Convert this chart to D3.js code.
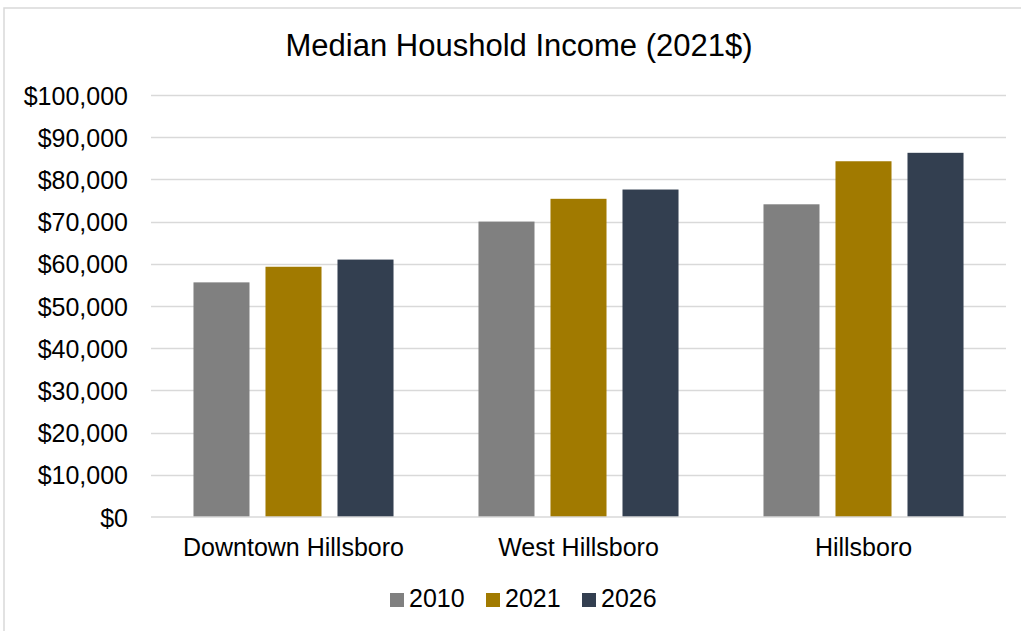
<!DOCTYPE html>
<html>
<head>
<meta charset="utf-8">
<script src="https://cdn.jsdelivr.net/npm/d3@7/dist/d3.min.js"></script>
<style>
  html, body { margin: 0; padding: 0; background: #fff; }
  svg { display: block; font-family: "Liberation Sans", Arial, sans-serif; }
</style>
</head>
<body>
<svg id="chart" width="1021" height="631"></svg>
<script>
// Chart data
const categories = ["Downtown Hillsboro", "West Hillsboro", "Hillsboro"];
const seriesNames = ["2010", "2021", "2026"];
const values2010 = [55600, 70000, 74100];
const values2021 = [59300, 75400, 84300];
const values2026 = [61000, 77600, 86300];
const yTicks = [0, 10000, 20000, 30000, 40000, 50000, 60000, 70000, 80000, 90000, 100000];
const seriesColors = ["#808080", "#a17a00", "#333f50"];
const titleText = "Median Houshold Income (2021$)";

const seriesValues = [values2010, values2021, values2026];
const rows = categories.map((c, i) => ({
  category: c,
  values: seriesNames.map((s, j) => ({ series: s, value: seriesValues[j][i] }))
}));

const svg = d3.select("#chart");
const W = 1021, H = 631;
const plot = { left: 151, right: 1006, top: 95, bottom: 517 };

// Outer frame
svg.append("rect")
  .attr("x", 4).attr("y", 8)
  .attr("width", W + 20).attr("height", H + 20)
  .attr("fill", "#fff")
  .attr("stroke", "#d9d9d9").attr("stroke-width", 1.5);

// Title
svg.append("text")
  .attr("x", 519).attr("y", 56)
  .attr("text-anchor", "middle")
  .attr("font-size", 31)
  .attr("fill", "#000")
  .text(titleText);

const y = d3.scaleLinear().domain([0, 100000]).range([plot.bottom, plot.top]);
const x0 = d3.scaleBand().domain(categories).range([plot.left, plot.right]).padding(0);
const x1 = d3.scaleBand().domain(seriesNames).range([0, x0.bandwidth()])
  .paddingInner(0.222).paddingOuter(0.59);
const color = d3.scaleOrdinal().domain(seriesNames).range(seriesColors);

// Gridlines
svg.append("g")
  .selectAll("line")
  .data(yTicks.filter(d => d > 0))
  .join("line")
  .attr("x1", plot.left).attr("x2", plot.right)
  .attr("y1", d => Math.round(y(d)) + 0.5).attr("y2", d => Math.round(y(d)) + 0.5)
  .attr("stroke", "#d9d9d9").attr("stroke-width", 1.3);

// Y axis labels
const fmt = d => "$" + d3.format(",")(d);
const yAxis = d3.axisLeft(y).tickValues(yTicks).tickFormat(fmt).tickSize(0).tickPadding(0);
const gy = svg.append("g").attr("transform", `translate(128,0)`).call(yAxis);
gy.select(".domain").remove();
gy.selectAll("text")
  .attr("font-size", 25)
  .attr("font-family", "Liberation Sans, Arial, sans-serif")
  .attr("fill", "#000")
  .attr("dy", "0.36em");

// Bars
svg.append("g")
  .selectAll("g")
  .data(rows)
  .join("g")
  .attr("transform", d => `translate(${x0(d.category)},0)`)
  .selectAll("rect")
  .data(d => d.values)
  .join("rect")
  .attr("x", d => x1(d.series))
  .attr("width", x1.bandwidth())
  .attr("y", d => y(d.value))
  .attr("height", d => y(0) - y(d.value))
  .attr("fill", d => color(d.series));

// Baseline
svg.append("line")
  .attr("x1", plot.left).attr("x2", plot.right)
  .attr("y1", y(0)).attr("y2", y(0))
  .attr("stroke", "#d9d9d9").attr("stroke-width", 1.5);

// X axis labels
const xAxis = d3.axisBottom(x0).tickSize(0).tickPadding(0);
const gx = svg.append("g").attr("transform", `translate(0,${plot.bottom})`).call(xAxis);
gx.select(".domain").remove();
gx.selectAll("text")
  .attr("font-size", 25)
  .attr("font-family", "Liberation Sans, Arial, sans-serif")
  .attr("fill", "#000")
  .attr("dy", 0)
  .attr("y", 39);

// Legend
const legendX = [390, 486, 582];
const legend = svg.append("g")
  .selectAll("g")
  .data(seriesNames)
  .join("g")
  .attr("transform", (d, i) => `translate(${legendX[i]},593)`);
legend.append("rect")
  .attr("width", 14).attr("height", 14)
  .attr("fill", d => color(d));
legend.append("text")
  .attr("x", 19).attr("y", 14)
  .attr("font-size", 25)
  .attr("fill", "#000")
  .text(d => d);
</script>
</body>
</html>
